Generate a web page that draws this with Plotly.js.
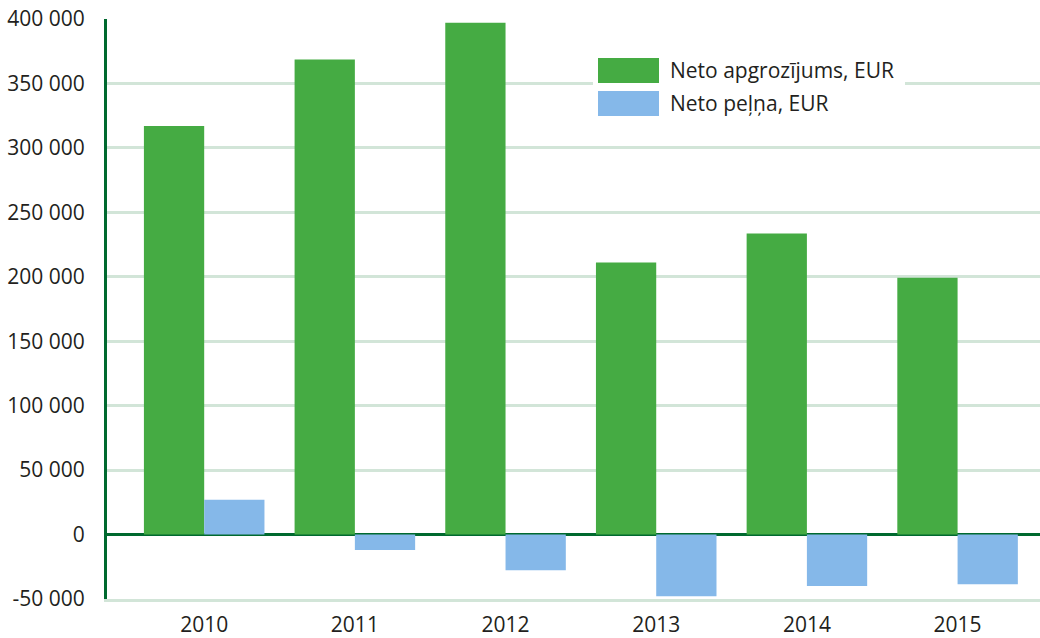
<!DOCTYPE html>
<html>
<head>
<meta charset="utf-8">
<script src="https://cdn.plot.ly/plotly-3.0.1.min.js"></script>
<style>html,body{margin:0;padding:0;background:#fff;}#chart{width:1040px;height:638px;}</style>
</head>
<body>
<div id="chart"></div>
<script>
var years = ["2010", "2011", "2012", "2013", "2014", "2015"];
var apgrozijums = [317000, 368500, 397000, 211000, 233500, 199300];
var pelna = [27000, -12000, -27700, -47800, -40000, -38500];
var seriesNames = ["Neto apgrozījums, EUR", "Neto peļņa, EUR"];
var yTickVals = [-50000, 0, 50000, 100000, 150000, 200000, 250000, 300000, 350000, 400000];
var yTickText = ["-50 000", "0", "50 000", "100 000", "150 000", "200 000", "250 000", "300 000", "350 000", "400 000"];

var green = "#45ab43", blue = "#85b8e9", dark = "#00692f", grid = "#d2e5d8", txt = "#231f20";

var traces = [
  {type: "bar", x: years, y: apgrozijums, name: seriesNames[0], marker: {color: green}, hoverinfo: "x+y"},
  {type: "bar", x: years, y: pelna, name: seriesNames[1], marker: {color: blue}, hoverinfo: "x+y"}
];

var L = 107, R = 1040, T = 19, B = 599;
function px(x) { return (x - L) / (R - L); }
function py(y) { return (B - y) / (B - T); }

var layout = {
  width: 1040, height: 638,
  margin: {l: L, r: 0, t: T, b: 638 - B, pad: 0},
  paper_bgcolor: "#fff", plot_bgcolor: "#fff",
  font: {family: "Open Sans, sans-serif", size: 21, color: txt},
  barmode: "group", bargap: 0.2, bargroupgap: 0,
  showlegend: false,
  xaxis: {
    type: "category", range: [-0.645, 5.547],
    showgrid: false, zeroline: false,
    showline: true, linecolor: grid, linewidth: 3,
    ticks: "outside", ticklen: 5, tickcolor: "rgba(0,0,0,0)",
    tickfont: {size: 21, color: txt}
  },
  yaxis: {
    range: [-50000, 400000],
    tickvals: yTickVals, ticktext: yTickText,
    showgrid: true, gridcolor: grid, gridwidth: 3,
    zeroline: true, zerolinecolor: dark, zerolinewidth: 3,
    showline: true, linecolor: dark, linewidth: 3,
    ticks: "outside", ticklen: 15, tickcolor: "rgba(0,0,0,0)",
    tickfont: {size: 21, color: txt}
  },
  shapes: [
    {type: "rect", xref: "paper", yref: "paper", x0: px(593), x1: px(905), y0: py(125), y1: py(45), fillcolor: "#fff", line: {width: 0}, layer: "above"},
    {type: "rect", xref: "paper", yref: "paper", x0: px(598), x1: px(659), y0: py(83), y1: py(58), fillcolor: green, line: {width: 0}, layer: "above"},
    {type: "rect", xref: "paper", yref: "paper", x0: px(598), x1: px(659), y0: py(116), y1: py(91), fillcolor: blue, line: {width: 0}, layer: "above"}
  ],
  annotations: [
    {xref: "paper", yref: "paper", x: px(668), y: py(70), xanchor: "left", yanchor: "middle", text: seriesNames[0], showarrow: false, font: {size: 21, color: txt}},
    {xref: "paper", yref: "paper", x: px(668), y: py(103), xanchor: "left", yanchor: "middle", text: seriesNames[1], showarrow: false, font: {size: 21, color: txt}}
  ]
};

Plotly.newPlot("chart", traces, layout, {displayModeBar: false, staticPlot: true});
</script>
</body>
</html>
